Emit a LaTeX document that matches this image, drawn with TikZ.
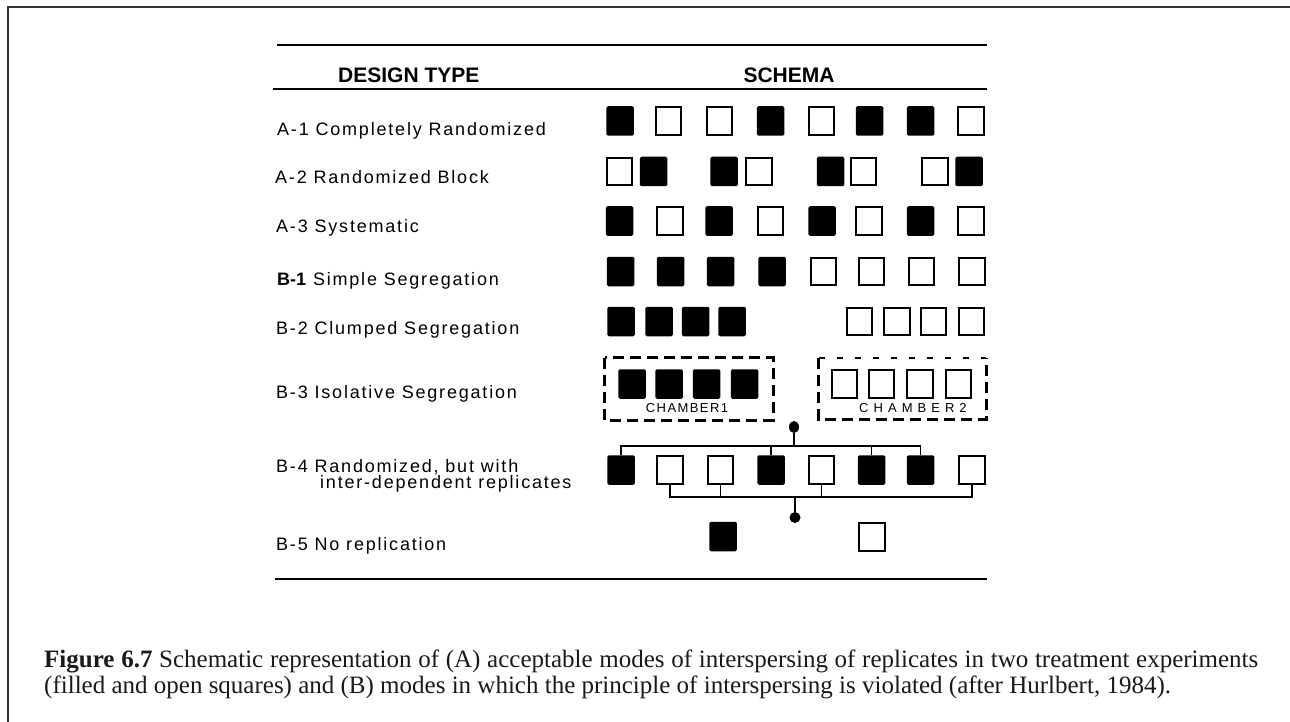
\documentclass[tikz,border=0pt]{standalone}
\usepackage{fontspec}
\setmainfont{Liberation Serif}
\newfontfamily\labfont[LetterSpace=10]{Liberation Sans}
\newfontfamily\plainsans{Liberation Sans}
\newfontfamily\chfont[LetterSpace=11]{Liberation Sans}
\usetikzlibrary{shapes.geometric}
\tikzset{
  fsq/.style={rectangle, fill=black, draw=none, minimum width=27.5pt, minimum height=29.5pt, inner sep=0pt, rounded corners=1.5pt},
  osq/.style={rectangle, draw=black, fill=white, line width=2.2pt, minimum width=25.3pt, minimum height=27.3pt, inner sep=0pt},
  lab/.style={anchor=base west, inner sep=0pt, font=\labfont\fontsize{18}{20}\selectfont},
  hdr/.style={inner sep=0pt, font=\plainsans\bfseries\fontsize{21}{24}\selectfont},
  rule/.style={line width=1.6pt},
  brk/.style={line width=1.8pt},
  chbox/.style={rectangle, draw=none, inner sep=0pt},
  thickdash/.style={line width=2.8pt, dash pattern=on 11pt off 6pt},
  thindash/.style={line width=1.6pt, dash pattern=on 6pt off 12pt},
  chlab/.style={anchor=base, inner sep=0pt, font=\chfont\fontsize{13}{15}\selectfont},
  captxt/.style={anchor=base west, inner sep=0pt, text=black!90, font=\fontsize{25}{28}\selectfont},
}
\begin{document}
\begin{tikzpicture}[x=1pt,y=-1pt]
\useasboundingbox (0,0) rectangle (1290,722);
% outer frame
\draw[line width=2pt, black!80] (7.5,722) -- (7.5,7.5) -- (1290,7.5);
% table rules
\coordinate (r1a) at (277,45); \coordinate (r1b) at (987,45);
\coordinate (r2a) at (273,89); \coordinate (r2b) at (987,89);
\coordinate (r3a) at (275,579); \coordinate (r3b) at (987,579);
\draw[rule] (r1a) -- (r1b);
\draw[rule] (r2a) -- (r2b);
\draw[line width=2.6pt] (r3a) -- (r3b);
% headers
\node[hdr, anchor=base west] (hdesign) at (338,83) {DESIGN TYPE};
\node[hdr, anchor=base] (hschema) at (789,83) {SCHEMA};
% labels
\node[lab] (la1) at (277,136) {A-1 Completely Randomized};
\node[lab] (la2) at (275,184) {A-2 Randomized Block};
\node[lab] (la3) at (276,233) {A-3 Systematic};
\node[lab] (lb1) at (277,285) {{\plainsans\bfseries B-1} Simple Segregation};
\node[lab] (lb2) at (276,334) {B-2 Clumped Segregation};
\node[lab] (lb3) at (276,398) {B-3 Isolative Segregation};
\node[lab] (lb4) at (276,472) {B-4 Randomized, but with};
\node[lab] (lb4b) at (320,488) {inter-dependent replicates};
\node[lab] (lb5) at (276,550) {B-5 No replication};
% A-1
\foreach \x/\t [count=\i] in {620/fsq,668.5/osq,719.5/osq,770.5/fsq,821.5/osq,869.5/fsq,920.5/fsq,971/osq}
  \node[\t] (a1-\i) at (\x,121) {};
% A-2
\foreach \x/\t [count=\i] in {619.5/osq,653.5/fsq,724/fsq,759/osq,830.5/fsq,863.5/osq,935/osq,969/fsq}
  \node[\t] (a2-\i) at (\x,171.5) {};
% A-3
\foreach \x/\t [count=\i] in {619.5/fsq,670/osq,719/fsq,770.5/osq,822/fsq,869/osq,920.5/fsq,971/osq}
  \node[\t] (a3-\i) at (\x,221) {};
% B-1
\foreach \x/\t [count=\i] in {620.5/fsq,670.5/fsq,720.5/fsq,772/fsq,823.5/osq,871.5/osq,921.5/osq,972/osq}
  \node[\t] (b1-\i) at (\x,271.5) {};
% B-2
\foreach \x/\t [count=\i] in {621/fsq,659/fsq,695.5/fsq,732/fsq,859.5/osq,897/osq,933.5/osq,971.5/osq}
  \node[\t] (b2-\i) at (\x,321.5) {};
% B-3
\node[chbox, minimum width=168pt, minimum height=62pt] (ch1) at (689,389) {};
\node[chbox, minimum width=167pt, minimum height=61pt] (ch2) at (902.5,388.5) {};
\draw[thickdash] (ch1.north west) rectangle (ch1.south east);
\draw[thickdash] (ch2.north west) -- (ch2.south west) -- (ch2.south east) -- (ch2.north east);
\draw[thindash] (ch2.north west) -- (ch2.north east);
\foreach \x/\t [count=\i] in {632/fsq,669/fsq,706.5/fsq,744.5/fsq,844.5/osq,881.5/osq,920/osq,958.5/osq}
  \node[\t] (b3-\i) at (\x,384) {};
\node[chlab] (ch1l) at (687,412) {CHAMBER1};
\node[chlab, anchor=base west] (ch2l) at (859,412) {C H A M B E R 2};
% B-4
\foreach \x/\t [count=\i] in {621/fsq,670/osq,720.5/osq,771/fsq,821.5/osq,871.5/fsq,920.5/fsq,972/osq}
  \node[\t] (b4-\i) at (\x,470) {};
\coordinate (tb) at (794,446);
\coordinate (bb) at (795,497);
\node[ellipse, fill=black, minimum width=10pt, minimum height=12pt, inner sep=0pt] (tk) at (794,427) {};
\node[circle, fill=black, minimum size=11pt, inner sep=0pt] (bk) at (795,517.5) {};
\draw[brk] (b4-1.north) |- (b4-7.north |- tb) -- (b4-7.north);
\draw[brk] (b4-4.north) -- (b4-4.north |- tb);
\draw[brk] (b4-6.north) -- (b4-6.north |- tb);
\draw[brk] (tb) -- (tk);
\draw[brk] (b4-2.south) |- (b4-8.south |- bb) -- (b4-8.south);
\draw[brk] (b4-3.south) -- (b4-3.south |- bb);
\draw[brk] (b4-5.south) -- (b4-5.south |- bb);
\draw[brk] (bb) -- (bk);
% B-5
\node[fsq] (b5-1) at (723,536.5) {};
\node[osq] (b5-2) at (872,537) {};
% caption
\node[captxt] (cap1) at (44,667) {\hbox to 1214pt{\textbf{Figure 6.7} Schematic representation of (A) acceptable modes of interspersing of replicates in two treatment experiments}};
\node[captxt] (cap2) at (44,693) {(filled and open squares) and (B) modes in which the principle of interspersing is violated (after Hurlbert, 1984).};
\end{tikzpicture}
\end{document}
